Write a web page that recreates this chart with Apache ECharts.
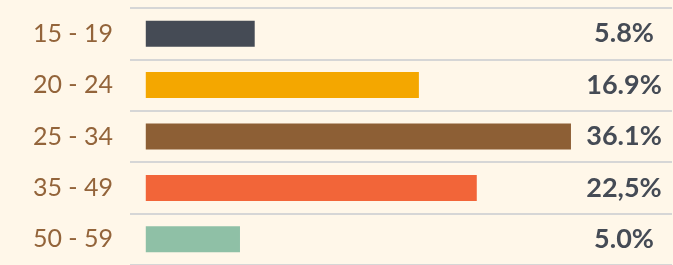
<!DOCTYPE html>
<html>
<head>
<meta charset="utf-8">
<script src="https://cdn.jsdelivr.net/npm/echarts@6/dist/echarts.min.js"></script>
<style>
html,body{margin:0;padding:0;background:#fff7e9;}
#c{width:673px;height:265px;}
</style>
</head>
<body>
<div id="c"></div>
<script>
// Data
var categories = ['15 - 19', '20 - 24', '25 - 34', '35 - 49', '50 - 59'];
var percentLabels = ['5.8%', '16.9%', '36.1%', '22,5%', '5.0%'];
// bar lengths as drawn in the picture (percent of track)
var barLengths = [20.7, 51.9, 80.8, 62.9, 17.9];
var barColors = ['#454b55', '#f4a700', '#8d5f35', '#f26539', '#8fc0a6'];

var chart = echarts.init(document.getElementById('c'), null, {renderer: 'canvas'});
chart.setOption({
  backgroundColor: '#fff7e9',
  animation: false,
  grid: {left: 130, right: 1, top: 8, height: 261.5, containLabel: false},
  xAxis: {
    type: 'value', min: -3, max: 100,
    show: false
  },
  yAxis: [{
    type: 'category', data: categories, inverse: true,
    axisLine: {show: false}, axisTick: {show: false},
    splitLine: {show: true, lineStyle: {color: '#d6d6d6', width: 2}},
    axisLabel: {color: '#93643a', fontFamily: 'Lato', fontSize: 25, margin: 17}
  }, {
    type: 'category', data: percentLabels, inverse: true, position: 'right',
    axisLine: {show: false}, axisTick: {show: false}, splitLine: {show: false},
    axisLabel: {color: '#454b55', fontFamily: 'Lato', fontWeight: 'bold', fontSize: 27, margin: -48, align: 'center'}
  }],
  series: [{
    type: 'bar',
    data: barLengths.map(function (v, i) { return {value: v, itemStyle: {color: barColors[i]}}; }),
    barWidth: 26,
    silent: true
  }]
});
</script>
</body>
</html>
